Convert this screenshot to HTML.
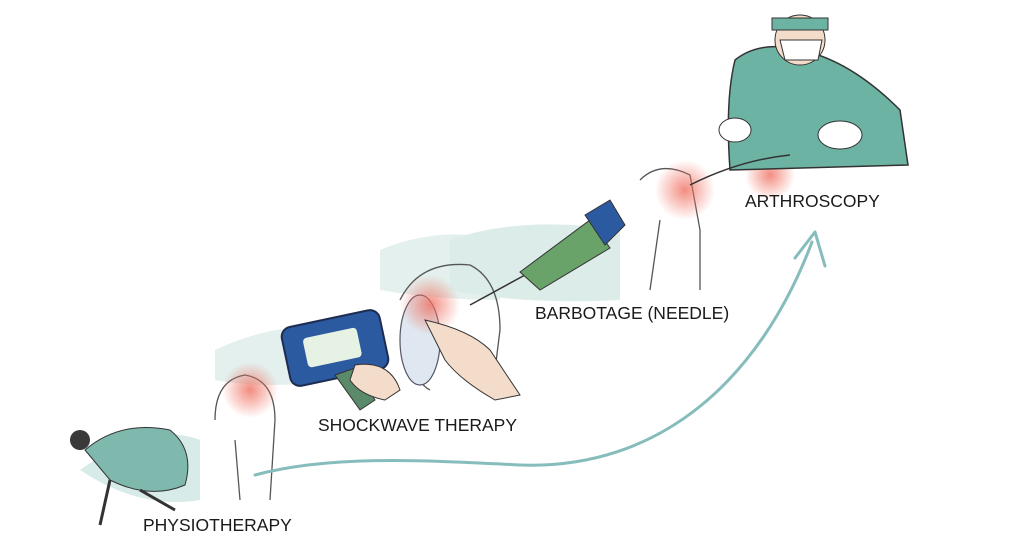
<!DOCTYPE html>
<html><head><meta charset="utf-8"><style>
html,body{margin:0;padding:0;background:#fff;width:1024px;height:559px;overflow:hidden}
svg{display:block}
text{font-family:"Liberation Sans",sans-serif;font-size:17.5px;fill:#1a1a1a}
</style></head><body>
<svg width="1024" height="559" viewBox="0 0 1024 559">
<defs>
<radialGradient id="red"><stop offset="0" stop-color="#f07060" stop-opacity=".8"/><stop offset="1" stop-color="#f07060" stop-opacity="0"/></radialGradient>
</defs>
<path d="M80 470 Q150 420 200 440 L200 500 Q140 510 80 470Z" fill="#d7ebe8"/>
<path d="M215 350 Q280 320 330 330 L330 380 Q270 390 215 380Z" fill="#e3f0ee"/>
<path d="M380 250 Q440 225 500 240 L500 300 Q440 300 380 290Z" fill="#e3f0ee"/>
<path d="M450 240 Q520 215 620 230 L620 300 Q520 305 450 290Z" fill="#dcece9"/>
<path d="M215 420 Q215 380 245 375 Q275 380 275 420 L270 500 M235 440 L240 500" fill="none" stroke="#555" stroke-width="1.3"/>
<path d="M400 300 Q420 260 470 265 Q500 280 500 330 L495 370 M410 330 Q410 380 430 390" fill="none" stroke="#555" stroke-width="1.3"/>
<path d="M640 180 Q660 160 690 175 L700 230 L700 290 M660 220 L650 290" fill="none" stroke="#555" stroke-width="1.3"/>
<ellipse cx="420" cy="340" rx="20" ry="45" fill="#dfe8f0" stroke="#556" stroke-width="1.2"/>
<circle cx="250" cy="390" r="28" fill="url(#red)"/>
<circle cx="430" cy="305" r="30" fill="url(#red)"/>
<circle cx="685" cy="190" r="30" fill="url(#red)"/>
<circle cx="770" cy="175" r="25" fill="url(#red)"/>
<circle cx="80" cy="440" r="10" fill="#3a3a3a"/>
<path d="M85 450 Q120 420 170 430 Q195 450 185 485 Q150 500 110 480Z" fill="#7fb8ad" stroke="#333"/>
<path d="M110 480 L100 525 M140 490 L175 510" stroke="#333" stroke-width="3" fill="none"/>
<rect x="285" y="318" width="100" height="60" rx="10" fill="#2c5aa0" stroke="#1d2c50" stroke-width="2" transform="rotate(-12 335 348)"/>
<rect x="305" y="332" width="55" height="30" rx="4" fill="#e6f2e4" transform="rotate(-12 335 348)"/>
<path d="M335 375 L360 410 L375 400 L355 368Z" fill="#5a8a6a" stroke="#333"/>
<path d="M355 365 Q390 360 400 390 L385 400 Q360 395 350 380Z" fill="#f4dccb" stroke="#333"/>
<path d="M425 320 Q470 330 490 350 L520 395 L495 400 Q460 380 445 360Z" fill="#f4dccb" stroke="#333"/>
<line x1="470" y1="305" x2="525" y2="275" stroke="#333" stroke-width="1.5"/>
<path d="M520 272 L590 220 L610 248 L540 290Z" fill="#6aa36a" stroke="#333"/>
<path d="M585 215 L610 200 L625 225 L605 245Z" fill="#2c5aa0" stroke="#333"/>
<path d="M735 60 Q760 40 800 50 Q850 60 900 110 L908 165 L730 170 Q725 100 735 60Z" fill="#6db3a4" stroke="#333" stroke-width="1.5"/>
<circle cx="800" cy="40" r="25" fill="#f4dccb" stroke="#333"/>
<path d="M772 18 L828 18 L828 30 L772 30Z" fill="#6db3a4" stroke="#333"/>
<path d="M780 40 L822 40 L818 60 L785 60Z" fill="#fff" stroke="#333"/>
<ellipse cx="735" cy="130" rx="16" ry="12" fill="#fff" stroke="#333"/>
<ellipse cx="840" cy="135" rx="22" ry="14" fill="#fff" stroke="#333"/>
<path d="M690 185 Q740 160 790 155" stroke="#333" stroke-width="1.5" fill="none"/>
<path d="M255 475 C330 455 420 460 520 465 C660 470 760 380 812 242" fill="none" stroke="#86bcbc" stroke-width="3" stroke-linecap="round"/>
<path d="M795 258 L815 232 L825 266" fill="none" stroke="#86bcbc" stroke-width="3" stroke-linecap="round" stroke-linejoin="round"/>
<text x="143" y="531">PHYSIOTHERAPY</text>
<text x="318" y="431">SHOCKWAVE THERAPY</text>
<text x="535" y="319">BARBOTAGE (NEEDLE)</text>
<text x="745" y="207">ARTHROSCOPY</text>
</svg>
</body></html>
